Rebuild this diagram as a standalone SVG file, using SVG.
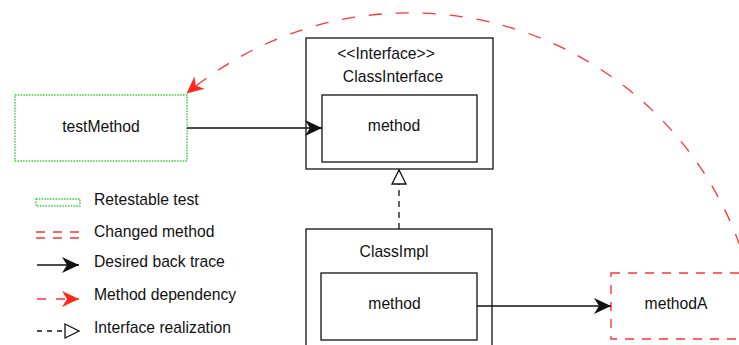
<svg xmlns="http://www.w3.org/2000/svg" width="739" height="345" viewBox="0 0 739 345">
<style>
text{font-family:"Liberation Sans",Arial,sans-serif;font-size:15.7px;fill:#111}
.c{text-anchor:middle}
.box{fill:#fff;stroke:#111;stroke-width:1.3}
.green{fill:none;stroke:#33cc33;stroke-width:1.4;stroke-dasharray:1.5 1.3}
.reddash{fill:none;stroke:#ff3333;stroke-width:1.4;stroke-dasharray:9 8}
.arc{fill:none;stroke:#ff3333;stroke-width:1.3;stroke-dasharray:13 14}
.solid{fill:none;stroke:#111;stroke-width:1.3}
.real{fill:none;stroke:#111;stroke-width:1.3;stroke-dasharray:6 5}
</style>
<defs>
<marker id="blk" markerUnits="userSpaceOnUse" markerWidth="19" markerHeight="17" refX="17" refY="8" orient="auto" overflow="visible">
<path d="M0,0 L17,8 L0,16 L5,8 Z" fill="#111"/>
</marker>
<marker id="red" markerUnits="userSpaceOnUse" markerWidth="19" markerHeight="17" refX="17" refY="8" orient="auto" overflow="visible">
<path d="M0,0 L17,8 L0,16 L5,8 Z" fill="#ff2a1a"/>
</marker>
<marker id="tri" markerUnits="userSpaceOnUse" markerWidth="16" markerHeight="16" refX="15" refY="7.5" orient="auto" overflow="visible">
<path d="M1,0.5 L15,7.5 L1,14.5 Z" fill="#fff" stroke="#111" stroke-width="1.3"/>
</marker>
</defs>

<g id="testMethod">
<rect x="15" y="95" width="172" height="66" fill="#fff" class="green"/>
<text class="c" x="101" y="132">testMethod</text>
</g>

<g id="ClassInterface">
<rect class="box" x="306" y="38" width="187" height="131"/>
<text class="c" x="386" y="59">&lt;&lt;Interface&gt;&gt;</text>
<text class="c" x="393" y="82">ClassInterface</text>
<g id="interfaceMethod">
<rect class="box" x="322" y="95" width="155" height="67"/>
<text class="c" x="394" y="131">method</text>
</g>
</g>

<g id="ClassImpl">
<rect class="box" x="306" y="229" width="186" height="130"/>
<text class="c" x="394" y="257">ClassImpl</text>
<g id="implMethod">
<rect class="box" x="321" y="273" width="156" height="67"/>
<text class="c" x="394.5" y="309">method</text>
</g>
</g>

<g id="methodA">
<rect x="611" y="273" width="140" height="66" fill="#fff" class="reddash"/>
<text class="c" x="676" y="309">methodA</text>
</g>

<g id="connectors">
<line class="solid" x1="187" y1="128" x2="322" y2="128" marker-end="url(#blk)"/>
<line class="solid" x1="477" y1="306" x2="611" y2="306" marker-end="url(#blk)"/>
<line class="real" x1="399" y1="229" x2="399" y2="170" marker-end="url(#tri)"/>
<path class="arc" d="M 748 272 A 350 350 0 0 0 186.5 93.5" marker-end="url(#red)"/>
</g>

<g id="legend">
<rect x="36" y="199" width="44" height="7" class="green"/>
<text x="94" y="205">Retestable test</text>
<rect x="36" y="232" width="44" height="6" class="reddash"/>
<text x="94" y="237">Changed method</text>
<line class="solid" x1="37" y1="265" x2="79" y2="265" marker-end="url(#blk)"/>
<text x="94" y="267">Desired back trace</text>
<line x1="37" y1="299" x2="79" y2="299" fill="none" stroke="#ff3333" stroke-width="1.4" stroke-dasharray="9 10" marker-end="url(#red)"/>
<text x="94" y="300">Method dependency</text>
<line x1="37" y1="331" x2="79" y2="331" fill="none" stroke="#111" stroke-width="1.3" stroke-dasharray="5 5" marker-end="url(#tri)"/>
<text x="94" y="333">Interface realization</text>
</g>
</svg>
